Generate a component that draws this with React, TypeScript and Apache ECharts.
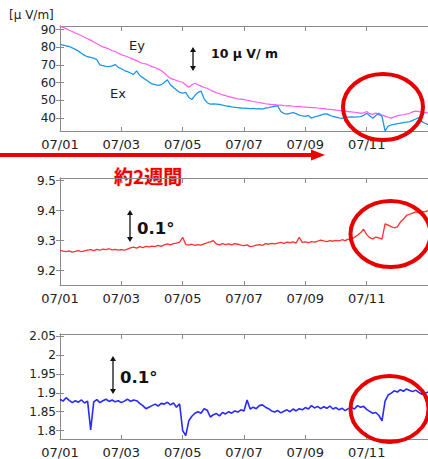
import React, { useEffect, useRef } from "react";
import * as echarts from "echarts";

// sampling step (days) of every series, starting at 07/01 00:00
const STEP = 0.1;

// top panel: electric field [μV/m]
const eyValues = [
  91.8, 91.2, 90.5, 89.6, 88.9, 88.0, 87.3, 86.5, 85.6, 84.8,
  84.0, 83.0, 82.1, 81.0, 80.2, 79.6, 79.0, 78.0, 77.6, 76.6,
  75.8, 75.2, 74.6, 73.8, 73.1, 72.4, 71.5, 70.8, 70.6, 69.8,
  69.0, 68.5, 67.6, 66.8, 65.4, 63.8, 62.4, 61.8, 61.2, 60.6,
  60.2, 58.6, 57.4, 58.8, 59.6, 58.8, 58.0, 57.2, 56.8, 55.8,
  55.0, 54.2, 53.8, 53.0, 52.6, 52.0, 51.6, 51.2, 50.8, 50.6,
  50.3, 50.0, 49.6, 49.3, 49.0, 48.6, 48.4, 48.0, 47.8, 47.6,
  47.5, 47.2, 47.3, 47.0, 46.8, 46.9, 46.6, 46.4, 46.5, 46.2,
  46.1, 46.0, 45.8, 45.9, 45.6, 45.4, 45.3, 45.0, 44.8, 44.7,
  44.4, 44.2, 44.0, 43.8, 43.6, 43.4, 43.2, 43.0, 42.6, 42.8,
  43.6, 42.4, 42.0, 42.8, 41.6, 41.8, 41.0, 40.4, 39.9, 40.6,
  41.2, 41.6, 41.8, 42.2, 42.6, 43.4, 43.8, 43.6, 43.2, 43.0, 42.8,
];
const exValues = [
  81.6, 81.2, 80.8, 80.4, 79.6, 78.8, 77.8, 76.6, 75.4, 74.6,
  74.2, 73.8, 73.0, 70.0, 69.6, 69.2, 69.0, 69.4, 70.2, 68.6,
  67.8, 66.8, 66.2, 65.4, 64.6, 66.6, 64.0, 62.8, 61.6, 60.4,
  59.2, 58.8, 58.4, 58.8, 60.0, 61.6, 58.8, 57.2, 55.8, 54.4,
  54.0, 54.4, 51.6, 50.4, 52.8, 54.4, 55.2, 50.8, 48.6, 47.8,
  47.9, 47.8, 47.6, 47.2, 46.8, 46.6, 46.2, 46.0, 45.8, 45.6,
  45.5, 45.4, 45.2, 45.4, 45.1, 45.3, 45.0, 45.6, 45.8, 46.2,
  46.6, 46.8, 43.6, 42.6, 42.2, 42.6, 43.0, 42.4, 41.6, 41.2,
  40.9, 41.4, 39.8, 40.6, 41.0, 41.6, 42.2, 42.3, 41.4, 40.8,
  40.4, 40.0, 39.8, 40.2, 40.4, 40.6, 40.4, 40.6, 40.7, 41.4,
  42.6, 41.2, 39.8, 41.4, 42.6, 40.8, 32.6, 35.4, 36.0, 36.4,
  36.8, 37.0, 37.4, 37.6, 37.9, 38.6, 39.4, 40.2, 37.9, 37.0, 36.2,
];

// middle panel: tilt [deg]
const tiltAValues = [
  9.268, 9.265, 9.263, 9.266, 9.262, 9.264, 9.267, 9.263, 9.266, 9.268,
  9.270, 9.267, 9.271, 9.268, 9.272, 9.270, 9.273, 9.269, 9.271, 9.268,
  9.270, 9.268, 9.272, 9.276, 9.278, 9.275, 9.280, 9.277, 9.281, 9.279,
  9.282, 9.280, 9.284, 9.281, 9.286, 9.289, 9.286, 9.290, 9.292, 9.295,
  9.311, 9.287, 9.285, 9.288, 9.284, 9.287, 9.285, 9.289, 9.293, 9.296,
  9.300, 9.289, 9.286, 9.290, 9.287, 9.289, 9.286, 9.290, 9.288, 9.285,
  9.283, 9.286, 9.280, 9.282, 9.285, 9.287, 9.284, 9.290, 9.288, 9.291,
  9.289, 9.292, 9.294, 9.291, 9.295, 9.293, 9.296, 9.292, 9.311, 9.294,
  9.296, 9.293, 9.297, 9.295, 9.298, 9.302, 9.299, 9.297, 9.300, 9.298,
  9.301, 9.299, 9.303, 9.300, 9.305, 9.303, 9.311, 9.318, 9.326, 9.338,
  9.320, 9.310, 9.306, 9.312, 9.309, 9.305, 9.356, 9.352, 9.347, 9.343,
  9.346, 9.362, 9.372, 9.384, 9.388, 9.392, 9.396, 9.393, 9.398, 9.396, 9.400,
];

// bottom panel: tilt [deg]
const tiltBValues = [
  1.883, 1.878, 1.887, 1.880, 1.874, 1.879, 1.875, 1.881, 1.873, 1.878,
  1.802, 1.876, 1.882, 1.874, 1.879, 1.883, 1.877, 1.881, 1.876, 1.879,
  1.874, 1.878, 1.883, 1.877, 1.881, 1.879, 1.872, 1.866, 1.858, 1.862,
  1.866, 1.870, 1.865, 1.872, 1.870, 1.875, 1.868, 1.873, 1.862, 1.871,
  1.800, 1.787, 1.826, 1.838, 1.846, 1.850, 1.846, 1.858, 1.854, 1.836,
  1.842, 1.845, 1.839, 1.848, 1.844, 1.850, 1.846, 1.852, 1.849, 1.855,
  1.852, 1.881, 1.857, 1.862, 1.858, 1.866, 1.868, 1.862, 1.858, 1.852,
  1.849, 1.853, 1.847, 1.851, 1.855, 1.850, 1.857, 1.852, 1.858, 1.855,
  1.861, 1.857, 1.866, 1.860, 1.864, 1.858, 1.863, 1.859, 1.865, 1.857,
  1.861, 1.855, 1.859, 1.853, 1.858, 1.861, 1.857, 1.866, 1.862, 1.864,
  1.856, 1.851, 1.846, 1.848, 1.840, 1.826, 1.878, 1.894, 1.899, 1.905,
  1.902, 1.908, 1.904, 1.910, 1.906, 1.903, 1.907, 1.901, 1.896, 1.899, 1.902,
];

// axes
const dateTicks = [0, 2, 4, 6, 8, 10];
const dateTickLabels = ["07/01", "07/03", "07/05", "07/07", "07/09", "07/11"];
const topTicks = [40, 50, 60, 70, 80, 90];
const midTicks = [9.2, 9.3, 9.4, 9.5];
const botTicks = [1.8, 1.85, 1.9, 1.95, 2, 2.05];

const toPairs = (vals: number[]) =>
  vals.map((v, i) => [Math.round(i * STEP * 100) / 100, v]);

const AXIS_COLOR = "#8a8a8a";
const LABEL_COLOR = "#222";
const FONT = "DejaVu Sans";

function xAxes(gridIndex: number) {
  const common = {
    type: "value",
    gridIndex,
    min: 0,
    max: 12,
    splitLine: { show: false },
    axisLine: { show: true, lineStyle: { color: AXIS_COLOR, width: 1 } },
  };
  return [
    {
      ...common,
      position: "bottom",
      axisTick: { show: true, inside: true, length: 4, customValues: dateTicks, lineStyle: { color: AXIS_COLOR } },
      axisLabel: {
        show: true,
        customValues: dateTicks,
        margin: 7,
        fontFamily: FONT,
        fontSize: 13,
        color: LABEL_COLOR,
        formatter: (v: number) => dateTickLabels[dateTicks.indexOf(Math.round(v))] ?? "",
      },
    },
    {
      ...common,
      position: "top",
      axisTick: { show: true, inside: true, length: 5, customValues: dateTicks, lineStyle: { color: AXIS_COLOR } },
      axisLabel: { show: false },
    },
  ];
}

function yAxes(gridIndex: number, min: number, max: number, ticks: number[]) {
  const common = {
    type: "value",
    gridIndex,
    min,
    max,
    splitLine: { show: false },
    axisLine: { show: true, lineStyle: { color: AXIS_COLOR, width: 1 } },
  };
  return [
    {
      ...common,
      position: "left",
      axisTick: { show: true, inside: true, length: 4, customValues: ticks, lineStyle: { color: AXIS_COLOR } },
      axisLabel: {
        show: true,
        customValues: ticks,
        margin: 4,
        fontFamily: FONT,
        fontSize: 12,
        color: LABEL_COLOR,
        formatter: (v: number) => String(Math.round(v * 1000) / 1000),
      },
    },
    {
      ...common,
      position: "right",
      axisTick: { show: true, inside: true, length: 4, customValues: ticks, lineStyle: { color: AXIS_COLOR } },
      axisLabel: { show: false },
    },
  ];
}

function dblArrow(x: number, y1: number, y2: number) {
  return [
    { type: "line", shape: { x1: x, y1: y1 + 3, x2: x, y2: y2 - 3 }, style: { stroke: "#111", lineWidth: 1.3 } },
    { type: "polygon", shape: { points: [[x - 3, y1 + 5], [x, y1], [x + 3, y1 + 5]] }, style: { fill: "#111" } },
    { type: "polygon", shape: { points: [[x - 3, y2 - 5], [x, y2], [x + 3, y2 - 5]] }, style: { fill: "#111" } },
  ];
}

function label(text: string, x: number, y: number, size: number, weight = "normal", color = "#111", family = FONT) {
  return {
    type: "text",
    x,
    y,
    style: {
      text,
      fill: color,
      fontFamily: family,
      fontSize: size,
      fontWeight: weight,
      align: "left",
      verticalAlign: "middle",
    },
  };
}

function ring(cx: number, cy: number, rx: number, ry: number) {
  return {
    type: "ellipse",
    shape: { cx, cy, rx, ry },
    style: { fill: "none", stroke: "#e60000", lineWidth: 4 },
    z: 100,
  };
}

export default function App() {
  const ref = useRef<HTMLDivElement>(null);

  useEffect(() => {
    if (!ref.current) return;
    const chart = echarts.init(ref.current, null, { renderer: "svg" });
    const lineSeries = (name: string, vals: number[], color: string, axis: number, width: number) => ({
      name,
      type: "line",
      xAxisIndex: axis,
      yAxisIndex: axis,
      data: toPairs(vals),
      showSymbol: false,
      symbol: "none",
      lineStyle: { color, width },
      itemStyle: { color },
      silent: true,
    });

    chart.setOption({
      animation: false,
      backgroundColor: "#ffffff",
      grid: [
        { left: 60, top: 26, width: 368, height: 105 },
        { left: 60, top: 178, width: 368, height: 107 },
        { left: 60, top: 334, width: 368, height: 106 },
      ],
      xAxis: [...xAxes(0), ...xAxes(1), ...xAxes(2)],
      yAxis: [
        ...yAxes(0, 32.6, 92, topTicks),
        ...yAxes(1, 9.152, 9.509, midTicks),
        ...yAxes(2, 1.778, 2.055, botTicks),
      ],
      series: [
        lineSeries("Ey", eyValues, "#ff5cf0", 0, 1.2),
        lineSeries("Ex", exValues, "#1f97e8", 0, 1.3),
        lineSeries("tiltA", tiltAValues, "#ff3030", 2, 1.3),
        lineSeries("tiltB", tiltBValues, "#2a2aff", 4, 1.6),
      ],
      graphic: [
        label("[μ V/m]", 9, 15, 12, "normal", "#222"),
        label("Ey", 129, 45, 13, "normal", "#222"),
        label("Ex", 110, 93, 13, "normal", "#222"),
        ...dblArrow(193, 47, 71),
        label("10 μ V/ m", 211, 53, 12.5, "bold", "#111"),
        // red span arrow
        { type: "line", shape: { x1: 0, y1: 155, x2: 313, y2: 155 }, style: { stroke: "#ee0000", lineWidth: 4 } },
        { type: "polygon", shape: { points: [[311, 149.5], [325, 155], [311, 160.5]] }, style: { fill: "#ee0000" } },
        {
          type: "text",
          x: 114,
          y: 175,
          style: {
            text: "約2週間",
            fill: "#ee0000",
            fontFamily: "Noto Sans CJK JP",
            fontSize: 19,
            fontWeight: "bold",
            align: "left",
            verticalAlign: "middle",
            stroke: "#ffd0d0",
            lineWidth: 1,
          },
        },
        ...dblArrow(130, 210, 242),
        label("0.1°", 137, 228, 16.5, "bold", "#111"),
        ...dblArrow(113, 356, 394),
        label("0.1°", 120, 377, 16.5, "bold", "#111"),
        ring(383, 107, 40, 33),
        ring(390.5, 234, 40, 33),
        ring(389.5, 409, 39, 33),
      ],
    });
    return () => chart.dispose();
  }, []);

  return (
    <div
      ref={ref}
      style={{ position: "fixed", left: 0, top: 0, width: 440, height: 459, background: "#fff" }}
    />
  );
}
